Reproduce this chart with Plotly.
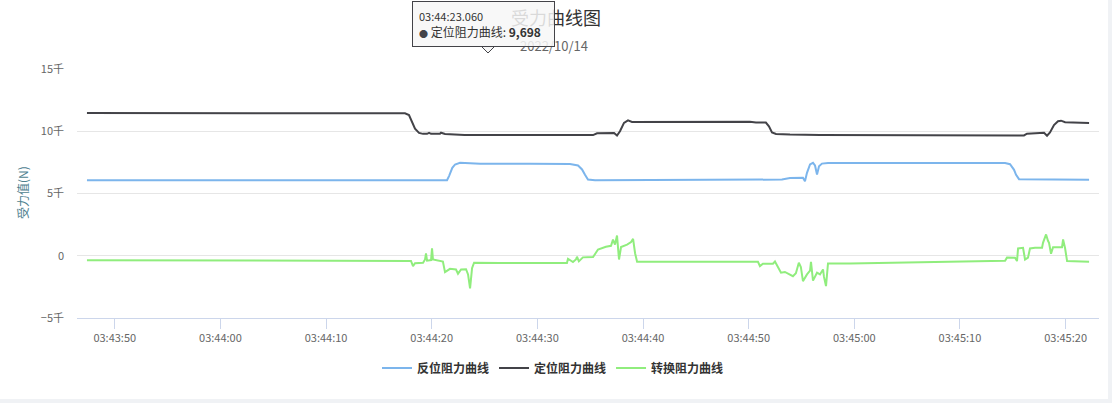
import plotly.graph_objects as go
import pandas as pd

# ---------------- data ----------------
BASE = "2022-10-14 03:43:50"          # offsets below are seconds from this time
series_names = ["反位阻力曲线", "定位阻力曲线", "转换阻力曲线"]
series_colors = ["#7cb5ec", "#434348", "#90ed7d"]

fanwei_t = [-2.63, 12.8, 31.45, 31.64, 31.95, 32.21, 32.68, 33.63, 34.58, 39.31, 43.09, 43.85,
            44.23, 44.51, 44.79, 45.46, 55.39, 62.9, 63.15, 63.91, 64.85, 65.14, 65.33, 65.52,
            65.81, 66.09, 66.28, 66.47, 66.66, 66.94, 67.51, 74.33, 84.27, 84.74, 85.12, 85.31,
            85.59, 92.22]
fanwei_v = [6060, 6050, 6060, 6400, 7060, 7330, 7460, 7420, 7380, 7380, 7360, 7250,
            6930, 6500, 6120, 6070, 6080, 6110, 6120, 6250, 6260, 6270, 5990, 6660,
            7330, 7460, 7250, 6530, 7190, 7400, 7450, 7440, 7440, 7350, 6900, 6500,
            6150, 6100]

dingwei_t = [-2.63, 8.0, 17.5, 27.0, 27.47, 27.85, 28.14, 28.42, 28.80, 29.18, 29.56, 29.75,
             29.94, 30.78, 30.88, 31.26, 33.1, 36.46, 41.19, 45.27, 45.65, 46.88, 47.26,
             47.54, 47.82, 48.20, 48.58, 48.96, 50.66, 55.39, 60.12, 60.69, 61.63, 61.92,
             62.21, 62.59, 63.91, 66.75, 74.33, 83.79, 86.06, 86.34, 87.58, 87.96, 88.24,
             88.52, 88.90, 89.28, 89.57, 89.95, 92.22]
dingwei_v = [11470, 11470, 11460, 11460, 11440, 11300, 10700, 10200, 9870, 9790, 9790, 9870,
             9790, 9800, 9880, 9780, 9698, 9690, 9680, 9690, 9840, 9840, 9860,
             9655, 10000, 10675, 10880, 10750, 10760, 10780, 10760, 10700, 10700, 10400,
             9900, 9780, 9730, 9700, 9670, 9650, 9660, 9800, 9840, 9870, 9640,
             9900, 10500, 10800, 10850, 10720, 10660]

zhuanhuan_t = [-2.63, 8.07, 27.47, 28.04, 28.23, 28.42, 29.18, 29.37, 29.46, 29.56, 29.94, 30.03,
               30.12, 31.06, 31.26, 31.73, 32.30, 32.49, 32.78, 33.25, 33.44, 33.63, 33.82,
               34.01, 36.46, 42.80, 42.90, 43.37, 43.65, 43.75, 43.93, 44.31, 45.27, 45.74,
               46.49, 46.97, 47.16, 47.35, 47.54, 47.73, 47.92, 48.49, 48.87, 49.06, 49.25,
               49.44, 50.66, 55.39, 60.88, 61.07, 61.35, 62.30, 62.49, 62.77, 63.06, 63.43,
               63.81, 64.19, 64.47, 64.75, 64.94, 65.14, 65.52, 65.81, 65.90, 66.09, 66.47,
               66.75, 67.04, 67.13, 67.32, 67.51, 69.59, 77.2, 84.27, 84.45, 85.21, 85.40,
               85.50, 85.97, 86.16, 86.44, 86.63, 87.10, 87.77, 87.86, 88.15, 88.33, 88.43,
               88.62, 88.81, 89.66, 89.76, 89.95, 90.14, 92.22]
zhuanhuan_v = [-360, -370, -390, -420, -830, -600, -560, -300, 180, -400, -350, 590,
               -300, -460, -1320, -1050, -1100, -1440, -1100, -1080, -1500, -2620, -1000,
               -560, -590, -590, -240, -500, -300, -80, -450, -130, -110, 500,
               720, 800, 1300, 900, 1630, -300, 700, 900, 1100, 1360, 200,
               -480, -480, -470, -480, -830, -640, -640, -460, -900, -1360, -1300,
               -1450, -1640, -1400, -560, -900, -2040, -1500, -1200, -500, -2000, -1360,
               -1500, -1100, -1700, -2440, -620, -620, -520, -400, -150, -160, -430,
               590, 640, -300, -150, 590, 640, 640, 1040, 1710, 1200, 1040,
               160, 690, 690, 1310, 600, -430, -480]

y_tickvals = [-5000, 0, 5000, 10000, 15000]
y_ticktext = ["−5千", "0", "5千", "10千", "15千"]

title_text = "受力曲线图"
subtitle_text = "2022/10/14"
y_title = "受力值(N)"
tooltip_time = "03:44:23.060"
tooltip_series = "定位阻力曲线"
tooltip_value = "9,698"

# ---------------- figure ----------------
FONT = "Noto Sans CJK SC, Noto Sans, sans-serif"


def to_times(offsets):
    return pd.Timestamp(BASE) + pd.to_timedelta(offsets, unit="s")


fig = go.Figure()
for name, color, t, v in [
    (series_names[0], series_colors[0], fanwei_t, fanwei_v),
    (series_names[1], series_colors[1], dingwei_t, dingwei_v),
    (series_names[2], series_colors[2], zhuanhuan_t, zhuanhuan_v),
]:
    fig.add_trace(go.Scatter(x=to_times(t), y=v, mode="lines", name=name,
                             line=dict(color=color, width=2)))

W, H = 1108, 399
L, R, T, B = 77, 1099, 69, 318
pw, ph = R - L, B - T


def px(x):
    return (x - L) / pw


def py(y):
    return (B - y) / ph


fig.update_layout(
    width=W, height=H, autosize=False,
    margin=dict(l=L, r=W - R, t=T, b=H - B, pad=0),
    paper_bgcolor="#ffffff", plot_bgcolor="#ffffff",
    font=dict(family=FONT, color="#666666", size=11),
    showlegend=True,
    legend=dict(orientation="h", x=px(553), xanchor="center", y=py(368), yanchor="middle",
                font=dict(family=FONT, size=12, color="#333333", weight="bold"),
                itemwidth=30, bgcolor="rgba(0,0,0,0)"),
    xaxis=dict(type="date",
               range=["2022-10-14 03:43:46.427", "2022-10-14 03:45:23.160"],
               tick0="2022-10-14 03:43:50", dtick=10000, tickformat="%H:%M:%S",
               showgrid=False, zeroline=False, showline=True, linecolor="#ccd6eb",
               linewidth=1, ticks="outside", ticklen=10, tickcolor="#ccd6eb", tickwidth=1,
               tickfont=dict(family=FONT, size=11, color="#666666")),
    yaxis=dict(range=[-5000, 15000], tickvals=y_tickvals, ticktext=y_ticktext,
               showgrid=True, gridcolor="#e6e6e6", gridwidth=1, zeroline=False,
               showline=False, ticks="", ticklabelstandoff=12,
               tickfont=dict(family=FONT, size=11, color="#666666")),
    hovermode=False,
)

annotations = [
    dict(text=title_text, x=px(556), y=py(17), xref="paper", yref="paper",
         xanchor="center", yanchor="middle", showarrow=False,
         font=dict(family=FONT, size=18, color="#333333")),
    dict(text=subtitle_text, x=px(554), y=py(46), xref="paper", yref="paper",
         xanchor="center", yanchor="middle", showarrow=False,
         font=dict(family=FONT, size=13, color="#666666")),
    dict(text=y_title, x=px(22), y=py(193), xref="paper", yref="paper",
         xanchor="center", yanchor="middle", showarrow=False, textangle=-90,
         font=dict(family=FONT, size=12, color="#4f7f8f")),
    dict(text=(f"<span style='font-size:11px'>{tooltip_time}</span><br>"
               f"<span style='color:{series_colors[1]};font-size:9px'>●</span> "
               f"{tooltip_series}: <b>{tooltip_value}</b>"),
         x=px(483.5), y=py(24), xref="paper", yref="paper",
         xanchor="center", yanchor="middle", showarrow=False, align="left",
         width=129, height=32, borderpad=6,
         bgcolor="rgba(247,247,247,0.85)", bordercolor="#434348", borderwidth=1,
         font=dict(family=FONT, size=12, color="#333333")),
]
fig.update_layout(annotations=annotations)

fig.add_shape(type="path", xref="paper", yref="paper",
              path=f"M {px(482)},{py(47)} L {px(488)},{py(53)} L {px(494)},{py(47)}",
              fillcolor="rgba(247,247,247,1)", line=dict(color="#434348", width=1),
              layer="above")

fig.write_html("out.html", config={"displayModeBar": False},
               post_script="document.body.style.margin='0';document.body.style.background='#f0f2f5';")
